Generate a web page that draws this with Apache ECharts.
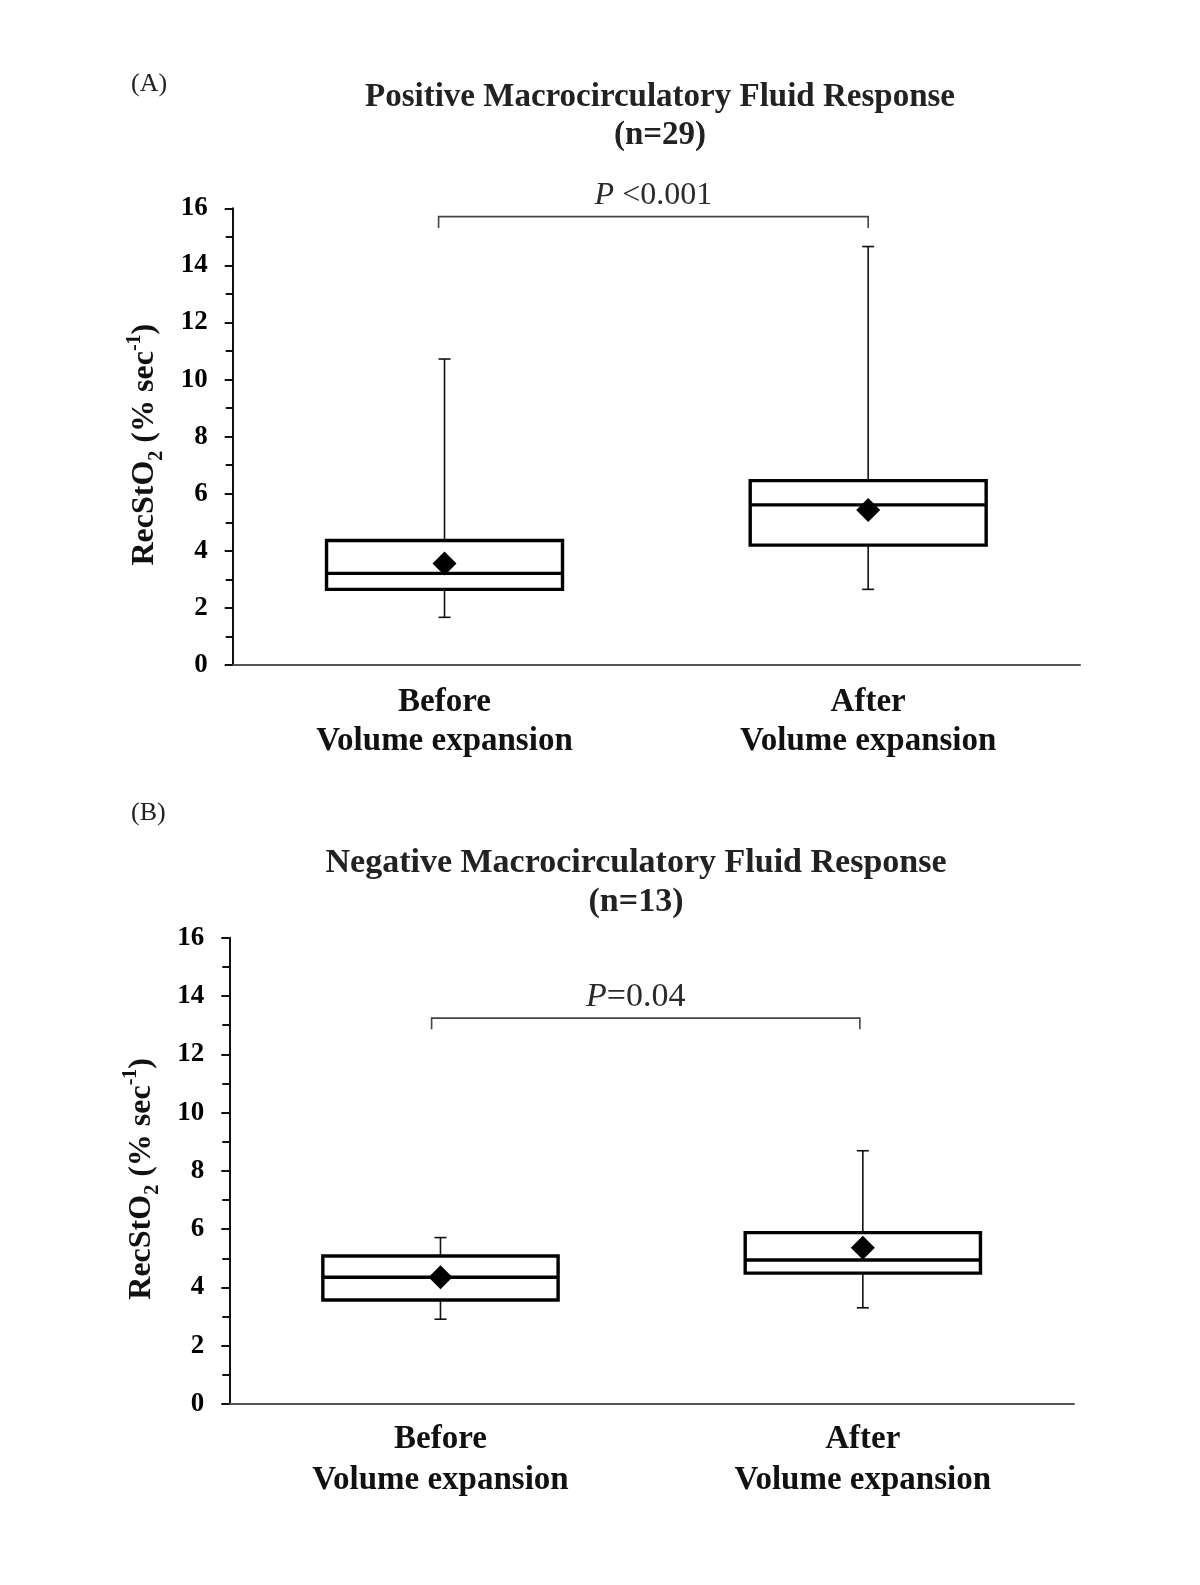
<!DOCTYPE html>
<html>
<head>
<meta charset="utf-8">
<script src="https://cdn.jsdelivr.net/npm/echarts@6/dist/echarts.min.js"></script>
<style>
html,body{margin:0;padding:0;background:#fff;}
#chart{width:1200px;height:1585px;}
</style>
</head>
<body>
<div id="chart"></div>
<script>
// ---- data ----
const categories = ['Before\nVolume expansion', 'After\nVolume expansion'];
const yMin = 0, yMax = 16, yStep = 2;
// [min, Q1, median, Q3, max]
const boxPositive = [[1.67, 2.65, 3.21, 4.36, 10.72], [2.65, 4.20, 5.61, 6.46, 14.66]];
const meanPositive = [3.56, 5.43];
const boxNegative = [[2.91, 3.57, 4.35, 5.08, 5.71], [3.30, 4.49, 4.94, 5.88, 8.69]];
const meanNegative = [4.35, 5.36];
// significance bracket: [from category, to category, line level, end level]
const bracketPositive = [-0.014, 0.0, 15.71, 15.31];
const bracketNegative = [-0.021, -0.007, 13.24, 12.86];
const pPositive = ['P', ' <0.001'];
const pNegative = ['P', '=0.04'];
const titlePositive = 'Positive Macrocirculatory Fluid Response\n(n=29)';
const titleNegative = 'Negative Macrocirculatory Fluid Response\n(n=13)';
const panelLabels = ['(A)', '(B)'];

// ---- rendering ----
const FONT = '"Liberation Serif", "Times New Roman", serif';
const chart = echarts.init(document.getElementById('chart'), null, {renderer: 'canvas'});

function boxItems(arr) {
  return arr.map((d, i) => [i, d[0], d[1], d[2], d[3], d[4]]);
}
function renderBox(params, api) {
  const c = api.value(0);
  const x = api.coord([c, 0])[0];
  const bw = api.size([1, 0])[0] * 0.557;
  const yLo = api.coord([c, api.value(1)])[1];
  const yQ1 = api.coord([c, api.value(2)])[1];
  const yMed = api.coord([c, api.value(3)])[1];
  const yQ3 = api.coord([c, api.value(4)])[1];
  const yHi = api.coord([c, api.value(5)])[1];
  const thin = {stroke: '#111', lineWidth: 1.6};
  const thick = {stroke: '#000', lineWidth: 3.4, fill: '#fff'};
  return {
    type: 'group',
    children: [
      {type: 'line', shape: {x1: x, y1: yHi, x2: x, y2: yQ3}, style: thin},
      {type: 'line', shape: {x1: x, y1: yQ1, x2: x, y2: yLo}, style: thin},
      {type: 'line', shape: {x1: x - 6, y1: yHi, x2: x + 6, y2: yHi}, style: thin},
      {type: 'line', shape: {x1: x - 6, y1: yLo, x2: x + 6, y2: yLo}, style: thin},
      {type: 'rect', shape: {x: x - bw / 2, y: yQ3, width: bw, height: yQ1 - yQ3}, style: thick},
      {type: 'line', shape: {x1: x - bw / 2, y1: yMed, x2: x + bw / 2, y2: yMed}, style: {stroke: '#000', lineWidth: 3.4}}
    ]
  };
}
function makeBracketRender(ptext, dx, fs) {
  return function (params, api) {
    const x0 = api.coord([0, 0])[0] + api.value(0) * api.size([1, 0])[0];
    const x1 = api.coord([1, 0])[0] + api.value(1) * api.size([1, 0])[0];
    const yl = api.coord([0, api.value(2)])[1];
    const yb = api.coord([0, api.value(3)])[1];
    const ls = {stroke: '#444', lineWidth: 1.6, fill: null};
    return {
      type: 'group',
      children: [
        {type: 'polyline', shape: {points: [[x0, yb], [x0, yl], [x1, yl], [x1, yb]]}, style: ls},
        {type: 'text', style: {
          text: '{i|' + ptext[0] + '}{r|' + ptext[1] + '}',
          x: (x0 + x1) / 2 + dx, y: yl - 21,
          align: 'center', verticalAlign: 'middle',
          rich: {
            i: {fontFamily: FONT, fontSize: fs, fontStyle: 'italic', fill: '#2a2a2a'},
            r: {fontFamily: FONT, fontSize: fs, fill: '#2a2a2a'}
          }
        }}
      ]
    };
  };
}

const grids = [
  {left: 232.7, top: 208.3, width: 847.3, height: 456.7},
  {left: 229.3, top: 937.7, width: 844.7, height: 466.3}
];
const nameRich = {
  a: {fontFamily: FONT, fontWeight: 'bold', fontSize: 32, lineHeight: 36, verticalAlign: 'middle', color: '#111'},
  s: {fontFamily: FONT, fontWeight: 'bold', fontSize: 20, lineHeight: 36, verticalAlign: 'bottom', padding: [0, 0, -4, 0], color: '#111'},
  p: {fontFamily: FONT, fontWeight: 'bold', fontSize: 20, lineHeight: 36, verticalAlign: 'top', padding: [-2, 0, 0, 0], color: '#111'}
};
function yAxisCfg(gi) {
  return {
    type: 'value', gridIndex: gi, min: yMin, max: yMax, interval: yStep,
    name: '{a|RecStO}{s|2}{a| (% sec}{p|-1}{a|)}',
    nameLocation: 'middle', nameRotate: 90, nameGap: 70,
    nameTextStyle: {rich: nameRich, padding: [0, 16, 0, 0]},
    axisLine: {show: true, lineStyle: {color: '#111', width: 2}},
    axisTick: {show: true, length: 8, lineStyle: {color: '#111', width: 2}},
    minorTick: {show: true, splitNumber: 2, length: 7, lineStyle: {color: '#111', width: 2}},
    splitLine: {show: false},
    axisLabel: {fontFamily: FONT, fontWeight: 'bold', fontSize: 27, color: '#000', margin: 25}
  };
}
function xAxisCfg(gi, margin, lh) {
  return {
    type: 'category', gridIndex: gi, data: categories,
    axisLine: {show: true, lineStyle: {color: '#555', width: 2}},
    axisTick: {show: false},
    axisLabel: {fontFamily: FONT, fontWeight: 'bold', fontSize: 33, lineHeight: lh, color: '#111', margin: margin}
  };
}

const option = {
  backgroundColor: '#fff',
  animation: false,
  title: [
    {text: titlePositive, left: 655, top: 73, textAlign: 'center',
     textStyle: {fontFamily: FONT, fontWeight: 'bold', fontSize: 33, lineHeight: 38.5, color: '#222'}},
    {text: titleNegative, left: 631, top: 839, textAlign: 'center',
     textStyle: {fontFamily: FONT, fontWeight: 'bold', fontSize: 34, lineHeight: 38.5, color: '#222'}},
    {text: panelLabels[0], left: 126, top: 66,
     textStyle: {fontFamily: FONT, fontWeight: 'normal', fontSize: 26, color: '#222'}},
    {text: panelLabels[1], left: 126, top: 795,
     textStyle: {fontFamily: FONT, fontWeight: 'normal', fontSize: 26, color: '#222'}}
  ],
  grid: grids,
  xAxis: [xAxisCfg(0, 17.5, 39.5), xAxisCfg(1, 14.5, 41.5)],
  yAxis: [yAxisCfg(0), yAxisCfg(1)],
  series: [
    {type: 'custom', xAxisIndex: 0, yAxisIndex: 0, renderItem: renderBox,
     encode: {x: 0, y: [1, 2, 3, 4, 5]}, data: boxItems(boxPositive), z: 2},
    {type: 'scatter', xAxisIndex: 0, yAxisIndex: 0, symbol: 'diamond', symbolSize: 24,
     itemStyle: {color: '#000', opacity: 1}, data: meanPositive.map((v, i) => [i, v]), z: 5},
    {type: 'custom', xAxisIndex: 0, yAxisIndex: 0, renderItem: makeBracketRender(pPositive, 0, 32),
     encode: {y: [2, 3]}, data: [bracketPositive], z: 3},
    {type: 'custom', xAxisIndex: 1, yAxisIndex: 1, renderItem: renderBox,
     encode: {x: 0, y: [1, 2, 3, 4, 5]}, data: boxItems(boxNegative), z: 2},
    {type: 'scatter', xAxisIndex: 1, yAxisIndex: 1, symbol: 'diamond', symbolSize: 24,
     itemStyle: {color: '#000', opacity: 1}, data: meanNegative.map((v, i) => [i, v]), z: 5},
    {type: 'custom', xAxisIndex: 1, yAxisIndex: 1, renderItem: makeBracketRender(pNegative, -10, 34),
     encode: {y: [2, 3]}, data: [bracketNegative], z: 3}
  ]
};
chart.setOption(option);
</script>
</body>
</html>
